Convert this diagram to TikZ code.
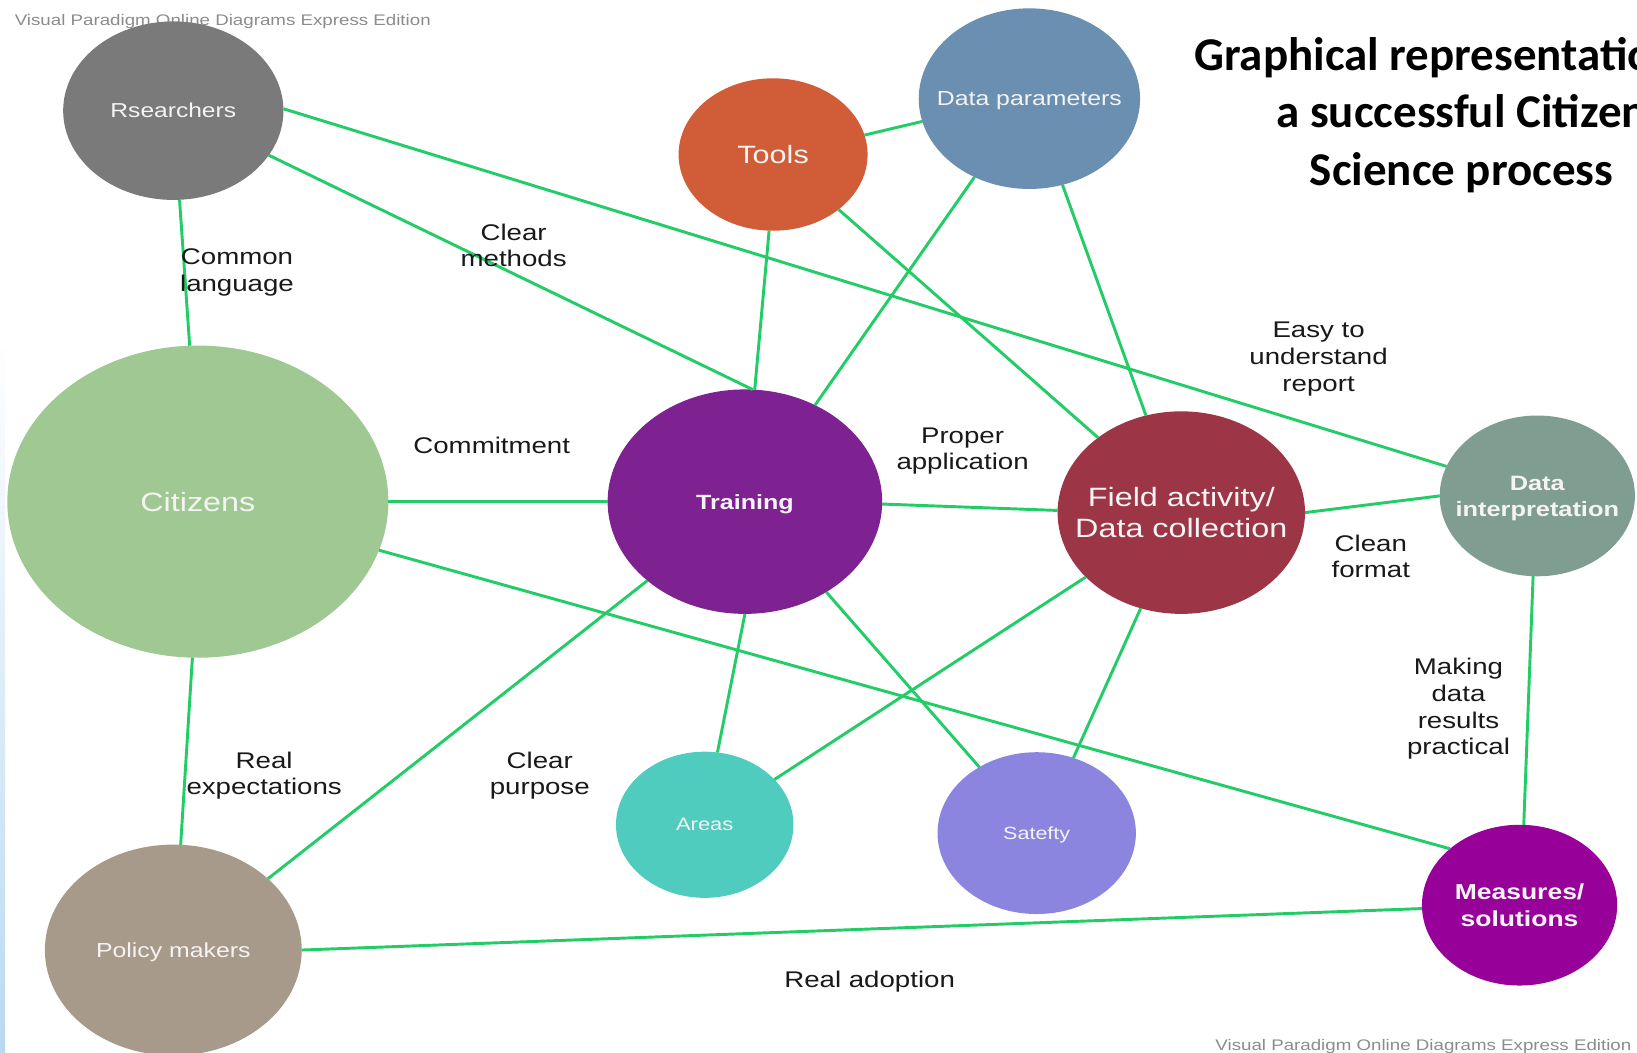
\documentclass[tikz,border=0pt]{standalone}
\usepackage{fontspec}
\setmainfont{Liberation Sans}
\newfontfamily\dfont[FakeStretch=1.22]{Liberation Sans}
\newfontfamily\tfont{Carlito}
\usetikzlibrary{shapes.geometric}
\definecolor{cRes}{HTML}{7A7A7A}
\definecolor{cTool}{HTML}{D05C38}
\definecolor{cDP}{HTML}{6A8FB0}
\definecolor{cCit}{HTML}{A0C892}
\definecolor{cTrn}{HTML}{7D2290}
\definecolor{cFld}{HTML}{9C3546}
\definecolor{cDI}{HTML}{7F9E91}
\definecolor{cAre}{HTML}{50CCBF}
\definecolor{cSaf}{HTML}{8B85E0}
\definecolor{cMea}{HTML}{98009A}
\definecolor{cPol}{HTML}{A89A8A}
\definecolor{cLine}{HTML}{22CC66}
\definecolor{cWm}{HTML}{8C8C8C}
\definecolor{cStrip}{HTML}{B9D9F0}
\definecolor{cTxt}{HTML}{F4F4F4}
\begin{document}
\begin{tikzpicture}[x=1pt,y=-1pt,
  bub/.style={ellipse, inner sep=0pt, outer sep=0pt},
  btxt/.style={text=cTxt, align=center, inner sep=0pt, text depth=0pt},
  conn/.style={draw=cLine, line width=2.8pt},
  lbl/.style={font=\dfont\fontsize{21.7}{25.5}\selectfont, align=center, text=black!90, inner sep=0pt},
  wm/.style={font=\dfont\fontsize{14.7}{17}\selectfont, text=cWm, inner sep=0pt, anchor=west}]
\useasboundingbox (0,0) rectangle (1568,1008);
\clip (0,0) rectangle (1568,1008);
\fill[white] (0,0) rectangle (1568,1008);
\shade[top color=white, bottom color=cStrip] (0,325) rectangle (5,1008);

% watermarks
\node[wm] (wm1) at (14,21) {Visual Paradigm Online Diagrams Express Edition};
\node[wm] (wm2) at (1164,1002) {Visual Paradigm Online Diagrams Express Edition};

% title
\node[font=\tfont\bfseries\fontsize{45}{55}\selectfont, align=center, inner sep=0pt] (title) at (1400,110)
  {Graphical representation of\\a successful Citizen\\Science process};

% nodes
\node[bub, fill=cRes, minimum width=211pt, minimum height=171pt,
  label={[btxt, font=\dfont\fontsize{19.3}{23}\selectfont]center:Rsearchers}] (res) at (166,106) {};
\node[bub, fill=cTool, minimum width=181pt, minimum height=146pt,
  label={[btxt, font=\dfont\fontsize{24}{28}\selectfont]center:Tools}] (tool) at (740.5,148) {};
\node[bub, fill=cDP, minimum width=212pt, minimum height=173pt,
  label={[btxt, font=\dfont\fontsize{19.5}{23}\selectfont]center:Data parameters}] (dp) at (986,94.5) {};
\node[bub, fill=cCit, minimum width=365pt, minimum height=299pt,
  label={[btxt, font=\dfont\fontsize{25.4}{30}\selectfont]center:Citizens}] (cit) at (189.5,480.5) {};
\node[bub, fill=cTrn, minimum width=263pt, minimum height=215pt,
  label={[btxt, font=\dfont\bfseries\fontsize{19.7}{24}\selectfont]center:Training}] (trn) at (713.5,480.5) {};
\node[bub, fill=cFld, minimum width=237pt, minimum height=194pt,
  label={[btxt, font=\dfont\fontsize{25.4}{30}\selectfont]center:Field activity/\\Data collection}] (fld) at (1131.5,491) {};
\node[bub, fill=cDI, minimum width=187pt, minimum height=154pt,
  label={[btxt, font=\dfont\bfseries\fontsize{19.9}{25}\selectfont]center:Data\\interpretation}] (di) at (1472.5,475) {};
\node[bub, fill=cAre, minimum width=170pt, minimum height=140pt,
  label={[btxt, font=\dfont\fontsize{17.2}{20}\selectfont]center:Areas}] (are) at (675,790) {};
\node[bub, fill=cSaf, minimum width=190pt, minimum height=155pt,
  label={[btxt, font=\dfont\fontsize{16.9}{20}\selectfont]center:Satefty}] (saf) at (993,798) {};
\node[bub, fill=cMea, minimum width=187pt, minimum height=154pt,
  label={[btxt, font=\dfont\bfseries\fontsize{20.8}{25}\selectfont]center:Measures/\\solutions}] (mea) at (1455.5,867) {};
\node[bub, fill=cPol, minimum width=246pt, minimum height=202pt,
  label={[btxt, font=\dfont\fontsize{19.5}{23}\selectfont]center:Policy makers}] (pol) at (166,910) {};

% connectors
\draw[conn] (res.-86.6) -- (cit.93.6);
\draw[conn] (res.-25.1) -- (trn.86.5);
\draw[conn] (res.1.6) -- (di.162.3);
\draw[conn] (tool.12.5) -- (dp.192);
\draw[conn] (tool.-93.5) -- (trn.85.4);
\draw[conn] (tool.-40.8) -- (fld.138.5);
\draw[conn] (dp.-125.1) -- (trn.54.7);
\draw[conn] (dp.-69.4) -- (fld.110);
\draw[conn] (cit.0) -- (trn.180);
\draw[conn] (trn.-1.5) -- (fld.179);
\draw[conn] (fld.0.5) -- (di.180.6);
\draw[conn] (cit.-15.7) -- (mea.141.6);
\draw[conn] (cit.-92.9) -- (pol.86.5);
\draw[conn] (trn.-141) -- (pol.37);
\draw[conn] (trn.-90.3) -- (are.80);
\draw[conn] (trn.-48.8) -- (saf.131.5);
\draw[conn] (fld.-146.7) -- (are.33.7);
\draw[conn] (fld.-113.8) -- (saf.64.7);
\draw[conn] (di.-93.3) -- (mea.87.4);
\draw[conn] (pol.0) -- (mea.182.4);

% labels
\node[lbl] (l1) at (227,261) {Common\\language};
\node[lbl] (l2) at (492,235) {Clear\\methods};
\node[lbl] (l3) at (1263,344) {Easy to\\understand\\report};
\node[lbl] (l4) at (471,427) {Commitment};
\node[lbl] (l5) at (922,432) {Proper\\application};
\node[lbl] (l6) at (1313,533) {Clean\\format};
\node[lbl] (l7) at (1397,679) {Making\\data\\results\\practical};
\node[lbl] (l8) at (253,743) {Real\\expectations};
\node[lbl] (l9) at (517,743) {Clear\\purpose};
\node[lbl] (l10) at (833,940) {Real adoption};
\end{tikzpicture}
\end{document}
